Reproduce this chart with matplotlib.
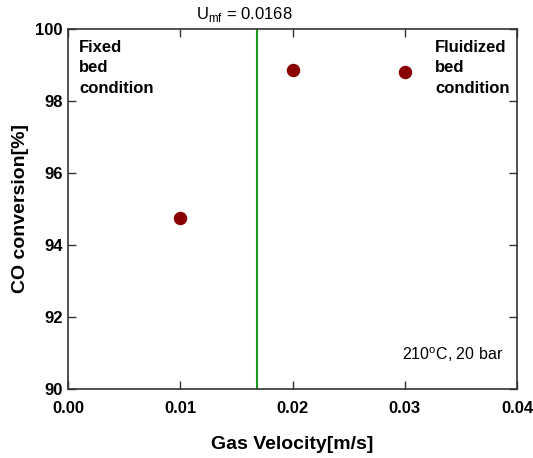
import matplotlib
matplotlib.use("Agg")
import matplotlib.pyplot as plt

x_vals = [0.01, 0.02, 0.03]
y_vals = [94.74, 98.86, 98.80]
umf = 0.0168
xticks = [0.00, 0.01, 0.02, 0.03, 0.04]
yticks = [90, 92, 94, 96, 98, 100]

plt.rcParams['font.family'] = ['Liberation Sans', 'DejaVu Sans']

fig = plt.figure(figsize=(5.33, 4.58), dpi=100)
ax = fig.add_axes([0.1276, 0.1507, 0.8424, 0.786])

ax.scatter(x_vals, y_vals, s=75, color='#8b0000', zorder=3)
ax.axvline(umf, color='#1a9a1a', lw=1.5)

ax.set_xlim(0, 0.04)
ax.set_ylim(90, 100)
ax.set_xticks(xticks)
ax.set_xticklabels([f"{v:.2f}" for v in xticks], fontweight='bold', fontsize=12)
ax.set_yticks(yticks)
ax.set_yticklabels([str(v) for v in yticks], fontweight='bold', fontsize=12)
ax.tick_params(axis='x', pad=9)
ax.tick_params(axis='y', pad=4)
ax.tick_params(direction='in', top=True, right=True, length=6, width=1, color='#333333')
for s in ax.spines.values():
    s.set_linewidth(1.2)
    s.set_color('#333333')

ax.set_xlabel('Gas Velocity[m/s]', fontweight='bold', fontsize=14, labelpad=14)
ax.set_ylabel('CO conversion[%]', fontweight='bold', fontsize=14, labelpad=4)

ax.text(0.0157, 100.15, r'U$_{\mathregular{mf}}$ = 0.0168', ha='center', va='bottom', fontsize=12)
ax.text(0.001, 99.7, 'Fixed\nbed\ncondition', ha='left', va='top', fontweight='bold', fontsize=12, linespacing=1.45)
ax.text(0.0327, 99.7, 'Fluidized\nbed\ncondition', ha='left', va='top', fontweight='bold', fontsize=12, linespacing=1.45)
ax.text(0.0388, 90.7, r'210$^{\mathregular{o}}$C, 20 bar', ha='right', va='bottom', fontsize=11.5)

fig.savefig('out.png', dpi=100)
